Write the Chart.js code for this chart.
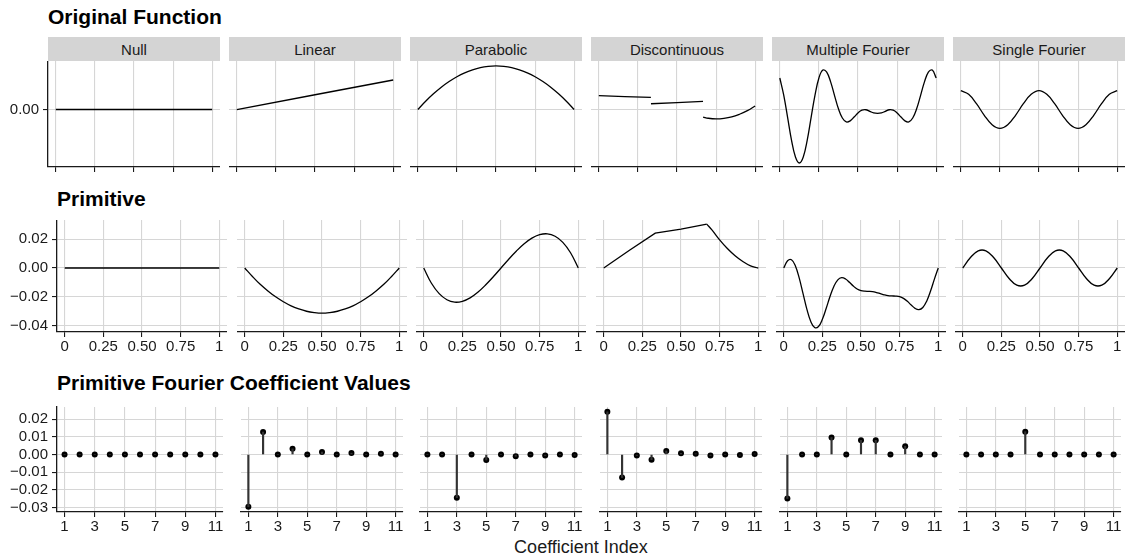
<!DOCTYPE html>
<html>
<head>
<meta charset="utf-8">
<script src="https://cdn.jsdelivr.net/npm/chart.js@4.4.1/dist/chart.umd.min.js"></script>
<style>
  body { margin: 0; background: #fff; width: 1126px; height: 559px; position: relative; overflow: hidden;
         font-family: "Liberation Sans", Arial, sans-serif; color: #1a1a1a; }
  .title { position: absolute; font-weight: bold; font-size: 21px; line-height: 21px; white-space: nowrap; color: #000; }
  .strip { position: absolute; background: #d4d4d4; font-size: 15px; display: flex; align-items: center; justify-content: center; }
  .xtitle { position: absolute; font-size: 18px; line-height: 18px; white-space: nowrap; transform: translateX(-50%); }
  canvas { position: absolute; }
</style>
</head>
<body>
<script>
// panel names (facet strips)
const panelNames = ["Null", "Linear", "Parabolic", "Discontinuous", "Multiple Fourier", "Single Fourier"];

// x samples on [0, 1]
const fnX = [0, 0.05, 0.1, 0.15, 0.2, 0.25, 0.3, 0.35, 0.4, 0.45, 0.5,
             0.55, 0.6, 0.65, 0.7, 0.75, 0.8, 0.85, 0.9, 0.95, 1];
const fnXFine = [0, 0.025, 0.05, 0.075, 0.1, 0.125, 0.15, 0.175, 0.2, 0.225, 0.25,
                 0.275, 0.3, 0.325, 0.35, 0.375, 0.4, 0.425, 0.45, 0.475, 0.5,
                 0.525, 0.55, 0.575, 0.6, 0.625, 0.65, 0.675, 0.7, 0.725, 0.75,
                 0.775, 0.8, 0.825, 0.85, 0.875, 0.9, 0.925, 0.95, 0.975, 1];
const fnTicks = [0, 0.25, 0.5, 0.75, 1];
const fnTickLabels = ["0", "0.25", "0.50", "0.75", "1"];

// original functions
const origNullX = [0, 1];
const origNull = [0, 0];
const origLinearX = [0, 1];
const origLinear = [0, 0.25];
const origParabolic = [0, 0.070, 0.133, 0.189, 0.237, 0.278, 0.311, 0.336, 0.355, 0.366, 0.370,
                       0.366, 0.355, 0.336, 0.311, 0.278, 0.237, 0.189, 0.133, 0.070, 0];
const origDiscX = [0, 0.333, 0.3333, 0.3336, 0.6664, 0.6667, 0.667, 0.7, 0.75, 0.8, 0.85, 0.9, 0.95, 1];
const origDisc = [0.117, 0.103, null, 0.049, 0.069, null, -0.064, -0.074, -0.080, -0.0755, -0.063, -0.040, -0.010, 0.030];
const origMulti = [0.267, 0.122, -0.069, -0.261, -0.402, -0.453, -0.402, -0.261, -0.069, 0.122, 0.267,
                   0.334, 0.317, 0.234, 0.118, 0.006, -0.072, -0.105, -0.096, -0.064, -0.029,
                   -0.006, -0.002, -0.015, -0.029, -0.033, -0.029, -0.015, -0.002, -0.006, -0.029,
                   -0.064, -0.096, -0.105, -0.072, 0.006, 0.118, 0.234, 0.317, 0.334, 0.267];
const origSingle = [0.16, 0.129, 0.049, -0.049, -0.129, -0.16, -0.129, -0.049, 0.049, 0.129, 0.16,
                    0.129, 0.049, -0.049, -0.129, -0.16, -0.129, -0.049, 0.049, 0.129, 0.16];
const origTicks = [0];
const origTickLabels = ["0.00"];

// primitives
const primNullX = [0, 1];
const primNull = [0, 0];
const primLinear = [0, -0.0059, -0.0113, -0.0159, -0.0200, -0.0234, -0.0263, -0.0284, -0.0300, -0.0309, -0.0313,
                    -0.0309, -0.0300, -0.0284, -0.0263, -0.0234, -0.0200, -0.0159, -0.0113, -0.0059, 0];
const primParabolic = [0, -0.0106, -0.0178, -0.0220, -0.0237, -0.0231, -0.0207, -0.0168, -0.0118, -0.0061, 0,
                       0.0061, 0.0118, 0.0168, 0.0207, 0.0231, 0.0237, 0.0220, 0.0178, 0.0106, 0];
const primDiscAX = [0, 0.1667, 0.3333, 0.5, 0.6667];
const primDiscA = [0, 0.0123, 0.0242, 0.0270, 0.0304];
const primDiscBX = [0.6667, 0.7, 0.75, 0.8, 0.85, 0.9, 0.95, 1];
const primDiscB = [0.0304, 0.0265, 0.0195, 0.0135, 0.0085, 0.0045, 0.0015, 0];
const primMulti = [0, 0.0050, 0.0057, 0.0016, -0.0069, -0.0178, -0.0287, -0.0371, -0.0413, -0.0406, -0.0356,
                   -0.0279, -0.0196, -0.0126, -0.0082, -0.0067, -0.0076, -0.0099, -0.0125, -0.0146, -0.0157,
                   -0.0161, -0.0162, -0.0164, -0.0170, -0.0178, -0.0186, -0.0192, -0.0194, -0.0195, -0.0199,
                   -0.0211, -0.0231, -0.0257, -0.0280, -0.0289, -0.0274, -0.0230, -0.0160, -0.0077, 0];
const primSingle = [0, 0.0073, 0.0119, 0.0119, 0.0073, 0, -0.0073, -0.0119, -0.0119, -0.0073, 0,
                    0.0073, 0.0119, 0.0119, 0.0073, 0, -0.0073, -0.0119, -0.0119, -0.0073, 0];
const primTicks = [-0.04, -0.02, 0, 0.02];
const primTickLabels = ["\u22120.04", "\u22120.02", "0.00", "0.02"];

// Fourier coefficients of the primitives
const coefIndex = [1, 2, 3, 4, 5, 6, 7, 8, 9, 10, 11];
const coefNull = [0, 0, 0, 0, 0, 0, 0, 0, 0, 0, 0];
const coefLinear = [-0.0295, 0.0127, 0, 0.0032, 0, 0.0014, 0, 0.0008, 0, 0.0005, 0];
const coefParabolic = [0, 0, -0.0243, 0, -0.0031, 0, -0.0010, 0, -0.0005, 0, -0.0002];
const coefDisc = [0.0241, -0.0130, -0.0005, -0.0029, 0.0020, 0.0007, 0.0004, -0.0005, 0, -0.0003, 0.0003];
const coefMulti = [-0.0248, 0, 0, 0.0096, 0, 0.0080, 0.0080, 0, 0.0047, 0, 0];
const coefSingle = [0, 0, 0, 0, 0.0129, 0, 0, 0, 0, 0, 0];
const coefXTicks = [1, 3, 5, 7, 9, 11];
const coefXTickLabels = ["1", "3", "5", "7", "9", "11"];
const coefTicks = [-0.03, -0.02, -0.01, 0, 0.01, 0.02];
const coefTickLabels = ["\u22120.03", "\u22120.02", "\u22120.01", "0.00", "0.01", "0.02"];

const GRID = "#d6d6d6";
const AXIS = "#1a1a1a";
const FONT = "'Liberation Sans', Arial, sans-serif";

// layout of the three rows of panels
const rows = [
  { top: 61, bottom: 167, lefts: [48, 229, 410, 591, 772, 953], width: 172, axisW: 48, axisH: 10,
    yMin: -0.487, yMax: 0.411, yTicks: origTicks, yLabels: origTickLabels,
    xMin: -0.05, xMax: 1.05, xTicks: fnTicks, xLabels: null },
  { top: 220, bottom: 332, lefts: [57, 237, 416, 596, 776, 955], width: 170, axisW: 57, axisH: 30,
    yMin: -0.0444, yMax: 0.0333, yTicks: primTicks, yLabels: primTickLabels,
    xMin: -0.05, xMax: 1.05, xTicks: fnTicks, xLabels: fnTickLabels },
  { top: 403, bottom: 512, lefts: [57, 237, 416, 596, 776, 955], width: 170, axisW: 57, axisH: 30,
    yMin: -0.0324, yMax: 0.0268, yTicks: coefTicks, yLabels: coefTickLabels,
    xMin: 0.5, xMax: 11.5, xTicks: coefXTicks, xLabels: coefXTickLabels }
];

const pts = (xs, ys) => xs.map((x, i) => ({ x, y: ys[i] }));
const curve = (xs, ys, tension = 0.4) => ({
  data: pts(xs, ys), borderColor: "#000", borderWidth: 1.3, pointRadius: 0, tension, fill: false
});
const stems = (ys) => [
  { type: "bar", data: pts(coefIndex, ys), backgroundColor: "#333", barThickness: 1.5, borderWidth: 0 },
  { data: pts(coefIndex, ys), showLine: false, pointRadius: 3, pointBackgroundColor: "#000", pointBorderWidth: 0 }
];

function addText(cls, text, style) {
  const d = document.createElement("div");
  d.className = cls;
  d.textContent = text;
  d.style.cssText = style;
  document.body.appendChild(d);
}

function zeroPad(s) { s.paddingLeft = 0; s.paddingRight = 0; s.paddingTop = 0; s.paddingBottom = 0; }

function makePanel(rowIdx, col, datasets) {
  const r = rows[rowIdx];
  const first = col === 0;
  const left = r.lefts[col] - (first ? r.axisW : 0);
  const w = r.width + (first ? r.axisW : 0);
  const h = r.bottom - r.top + r.axisH;
  const canvas = document.createElement("canvas");
  canvas.width = w;
  canvas.height = h;
  canvas.style.cssText = `left:${left}px;top:${r.top}px;width:${w}px;height:${h}px`;
  document.body.appendChild(canvas);

  new Chart(canvas, {
    type: "line",
    data: { datasets },
    options: {
      responsive: false,
      animation: false,
      events: [],
      layout: { padding: 0 },
      plugins: { legend: { display: false }, tooltip: { enabled: false } },
      scales: {
        x: {
          type: "linear", min: r.xMin, max: r.xMax, offset: false,
          afterBuildTicks: (s) => { s.ticks = r.xTicks.map((v) => ({ value: v })); },
          afterFit: (s) => { s.height = r.axisH; zeroPad(s); },
          grid: { color: GRID, lineWidth: 1.1, tickColor: AXIS, tickLength: 5, tickWidth: 1.1, offset: false },
          border: { display: true, color: AXIS, width: 1.3 },
          ticks: {
            display: !!r.xLabels, autoSkip: false, maxRotation: 0, padding: 1, color: AXIS,
            font: { family: FONT, size: 15 },
            callback: (v, i) => (r.xLabels ? r.xLabels[i] : "")
          }
        },
        y: {
          type: "linear", min: r.yMin, max: r.yMax,
          afterBuildTicks: (s) => { s.ticks = r.yTicks.map((v) => ({ value: v })); },
          afterFit: (s) => { s.width = first ? r.axisW : 0; zeroPad(s); },
          grid: { color: GRID, lineWidth: 1.1, tickColor: AXIS, tickLength: 5, tickWidth: 1.1, drawTicks: first },
          border: { display: first, color: AXIS, width: 1.3 },
          ticks: {
            display: first, padding: 4, color: AXIS,
            font: { family: FONT, size: 15 },
            callback: (v, i) => r.yLabels[i]
          }
        }
      }
    }
  });
}

// titles and strips
addText("title", "Original Function", "left:48px;top:5.5px");
addText("title", "Primitive", "left:57px;top:188px");
addText("title", "Primitive Fourier Coefficient Values", "left:57px;top:371.5px");
panelNames.forEach((name, i) => {
  addText("strip", name, `left:${rows[0].lefts[i]}px;top:37px;width:${rows[0].width}px;height:24px`);
});
addText("xtitle", "Coefficient Index", "left:581px;top:538px");

// row 1: original functions
makePanel(0, 0, [curve(origNullX, origNull)]);
makePanel(0, 1, [curve(origLinearX, origLinear)]);
makePanel(0, 2, [curve(fnX, origParabolic)]);
makePanel(0, 3, [curve(origDiscX, origDisc)]);
makePanel(0, 4, [curve(fnXFine, origMulti)]);
makePanel(0, 5, [curve(fnX, origSingle)]);

// row 2: primitives
makePanel(1, 0, [curve(primNullX, primNull)]);
makePanel(1, 1, [curve(fnX, primLinear)]);
makePanel(1, 2, [curve(fnX, primParabolic)]);
makePanel(1, 3, [curve(primDiscAX, primDiscA, 0), curve(primDiscBX, primDiscB)]);
makePanel(1, 4, [curve(fnXFine, primMulti)]);
makePanel(1, 5, [curve(fnX, primSingle)]);

// row 3: coefficients
makePanel(2, 0, stems(coefNull));
makePanel(2, 1, stems(coefLinear));
makePanel(2, 2, stems(coefParabolic));
makePanel(2, 3, stems(coefDisc));
makePanel(2, 4, stems(coefMulti));
makePanel(2, 5, stems(coefSingle));
</script>
</body>
</html>
